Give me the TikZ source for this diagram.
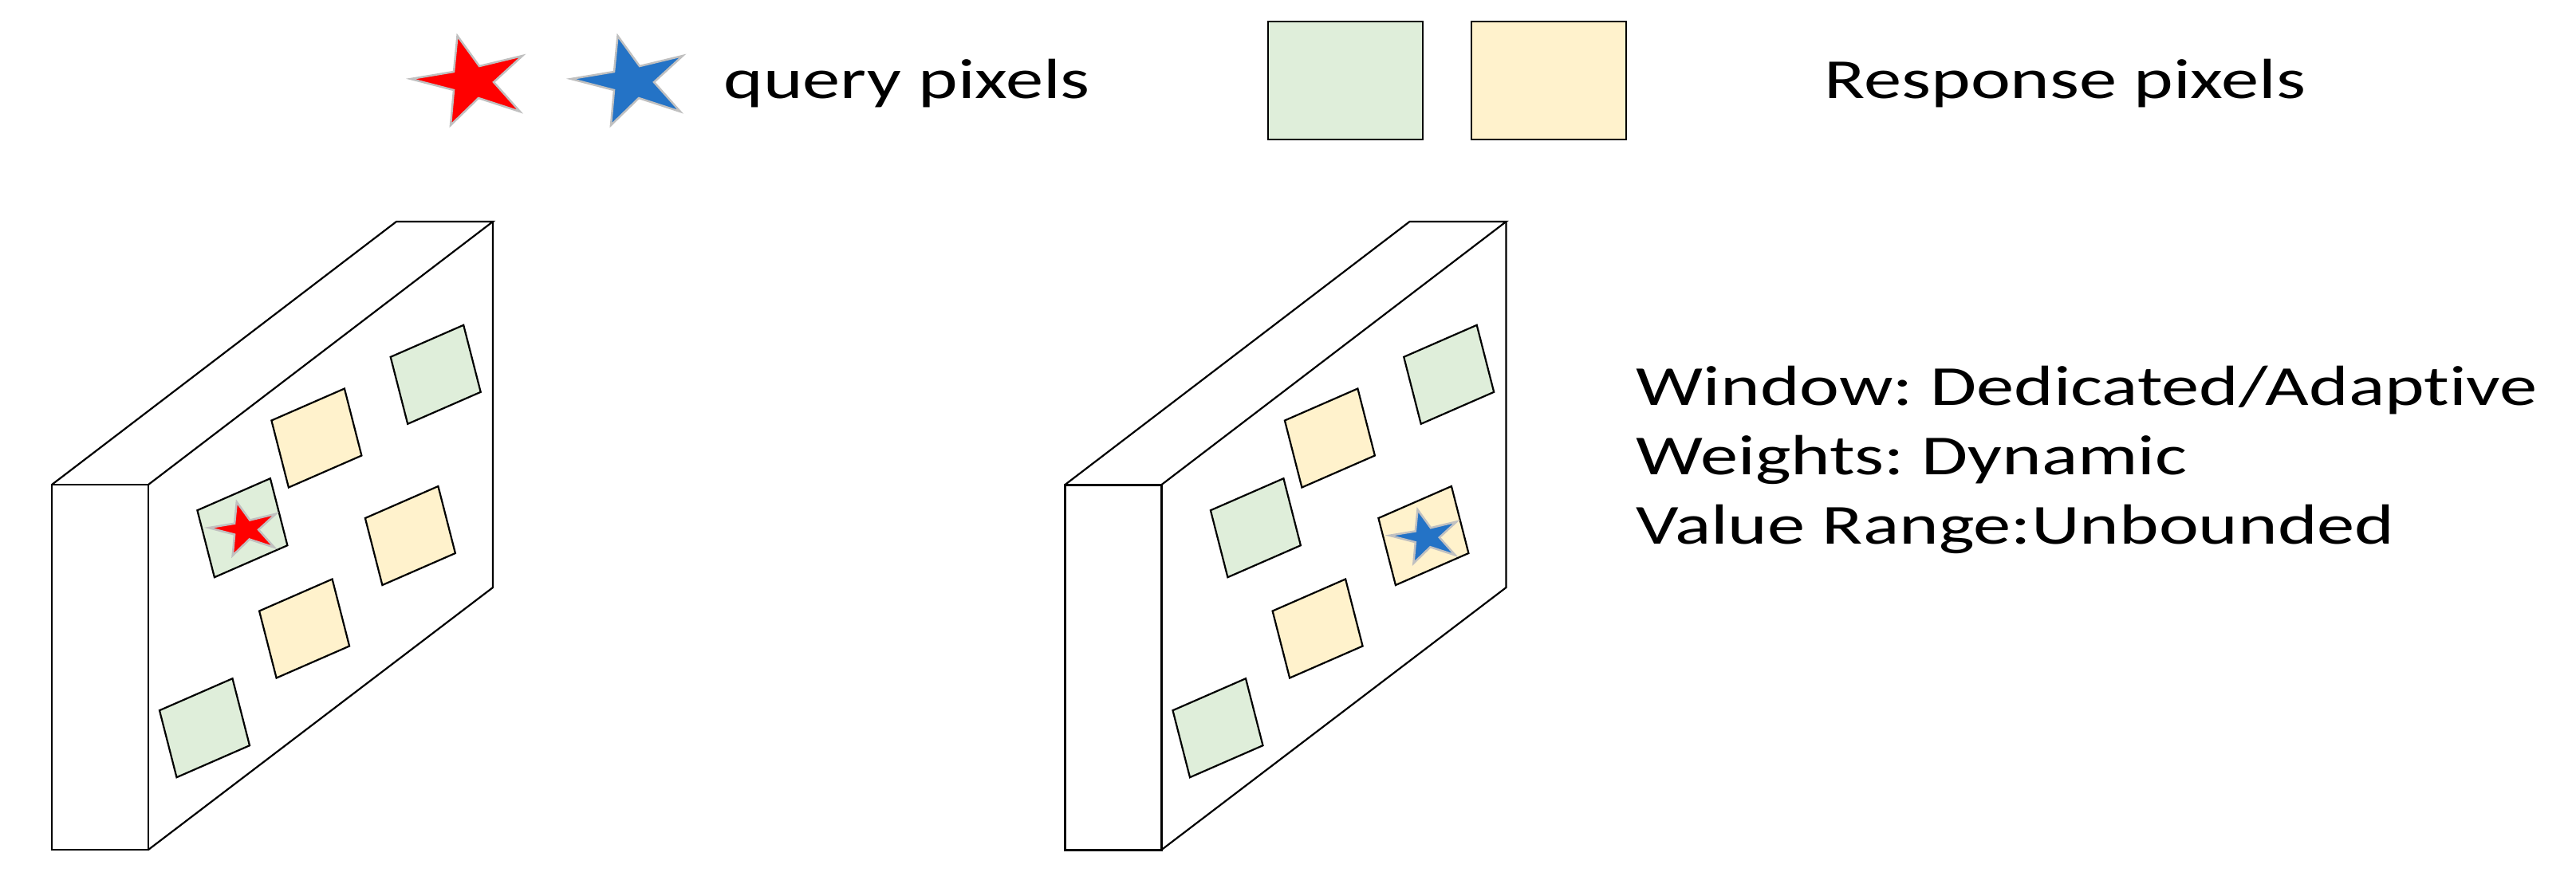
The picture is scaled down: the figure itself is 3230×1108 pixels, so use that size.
\documentclass[tikz,border=0pt]{standalone}
\usepackage{fontspec}
\newfontfamily\lblfont[FakeStretch=1.33, Ligatures=NoCommon]{Carlito}
\definecolor{pxgreen}{HTML}{DFEEDA}
\definecolor{pxyellow}{HTML}{FFF2CC}
\definecolor{stargray}{HTML}{C0C0C0}
\definecolor{starred}{HTML}{FF0000}
\definecolor{starblue}{HTML}{2473C6}
\newcommand\sqpatch[3]{%
  \filldraw[fill=#1, draw=black, line width=0.022cm, line join=miter]
    (#2,#3) -- ++(91.5,-40) -- ++(21.5,84) -- ++(-91.5,40) -- cycle;}
\newcommand\qstar[4]{%
  \filldraw[fill=#1, draw=stargray, line width=0.025cm, line join=miter,
    shift={(#2,#3)}, scale=#4]
    (-18.5,-57) -- (9,-19) -- (63,-32) -- (27,1) -- (60,38) -- (8,21)
    -- (-27,55) -- (-23,11) -- (-77,-3) -- (-23,-12) -- cycle;}
\newcommand\blockshape[1]{%
  \draw[line width=#1] (65,608) rectangle (186,1066);
  \draw[line width=0.022cm, line join=miter] (65,608) -- (497,278) -- (618,278) -- (186,608);
  \draw[line width=0.022cm, line join=miter] (618,278) -- (618,737) -- (186,1066);}
\tikzset{lbl/.style={font=\lblfont\frenchspacing\fontsize{20.2pt}{24pt}\selectfont, inner sep=0pt, anchor=base west}}
\begin{document}
\begin{tikzpicture}[x=0.01cm, y=-0.01cm]
\useasboundingbox (0,0) rectangle (3230,1108);
% legend
\qstar{starred}{592}{102}{1}
\qstar{starblue}{793}{102}{1}
\node[lbl] (qlabel) at (907,123) {query pixels};
\filldraw[fill=pxgreen, draw=black, line width=0.025cm] (1590,27) rectangle (1784,175);
\filldraw[fill=pxyellow, draw=black, line width=0.025cm] (1845,27) rectangle (2039,175);
\node[lbl] (rlabel) at (2287,123) {Response pixels};
% left block
\begin{scope}
  \blockshape{0.022cm}
  \sqpatch{pxgreen}{489.7}{447.8}
  \sqpatch{pxyellow}{340.4}{527.5}
  \sqpatch{pxgreen}{247.4}{640.2}
  \sqpatch{pxyellow}{457.9}{650}
  \sqpatch{pxyellow}{325.1}{766.5}
  \sqpatch{pxgreen}{200}{891.2}
  \qstar{starred}{307.9}{663.9}{0.6}
\end{scope}
% right block
\begin{scope}[shift={(1270.5,0)}]
  \blockshape{0.03cm}
  \sqpatch{pxgreen}{489.7}{447.8}
  \sqpatch{pxyellow}{340.4}{527.5}
  \sqpatch{pxgreen}{247.4}{640.2}
  \sqpatch{pxyellow}{457.9}{650}
  \sqpatch{pxyellow}{325.1}{766.5}
  \sqpatch{pxgreen}{200}{891.2}
  \qstar{starblue}{518.1}{673.6}{0.6}
\end{scope}
% properties
\node[lbl] (win) at (2051,508) {Window: Dedicated/Adaptive};
\node[lbl] (wts) at (2051,595) {Weights: Dynamic};
\node[lbl] (rng) at (2051,682) {Value Range:Unbounded};
\end{tikzpicture}
\end{document}
